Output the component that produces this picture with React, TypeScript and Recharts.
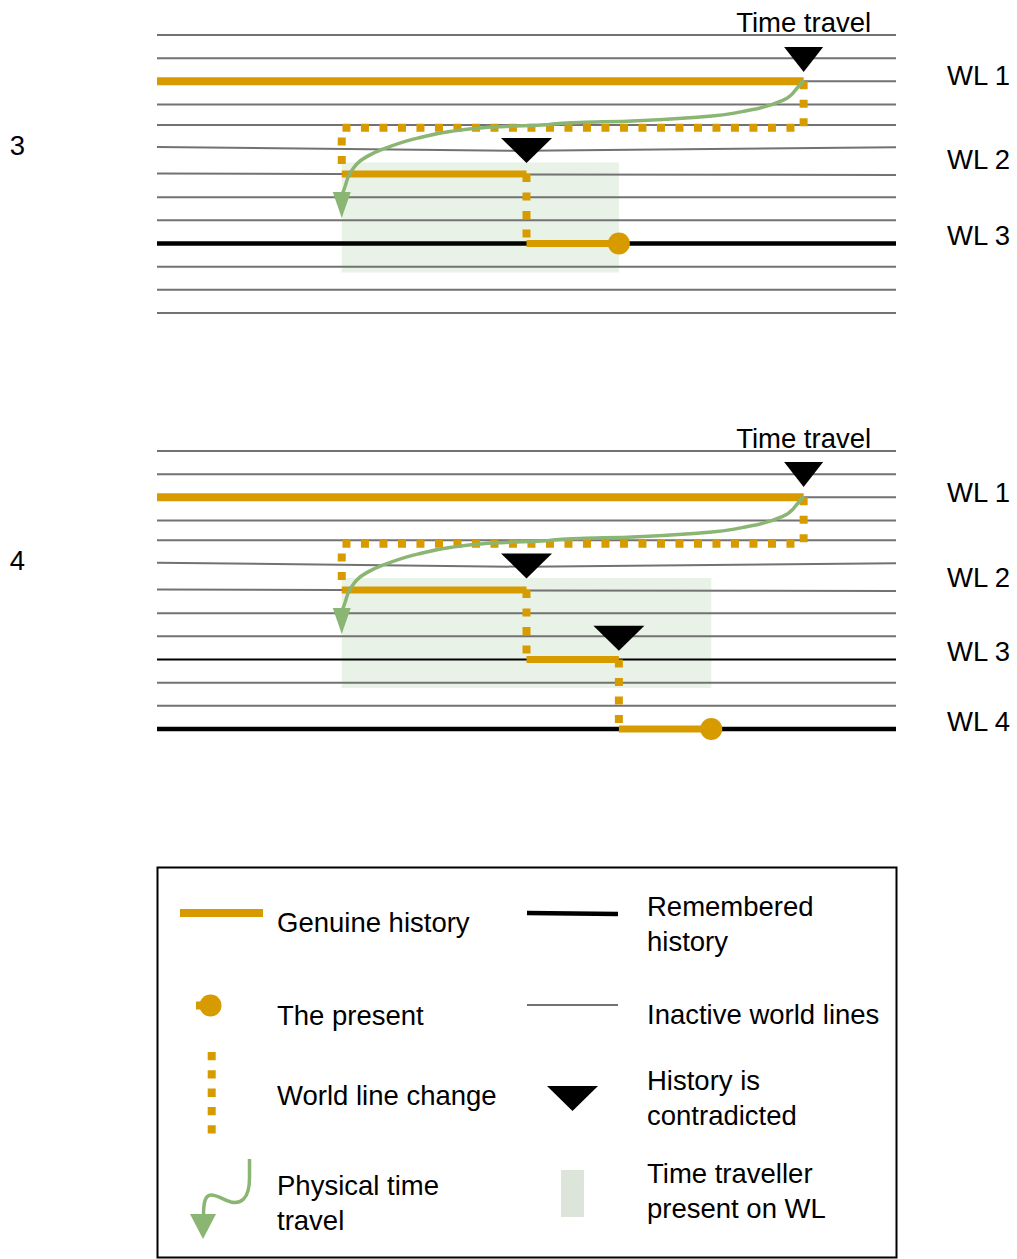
import React from "react";
import { ComposedChart, Line, Scatter, XAxis, YAxis, ReferenceArea } from "recharts";

const ORANGE = "#d79b00";
const GREEN = "#8bb573";
const GRAY = "#727272";
const PRESENCE = "#e9f2e6";
const FONT = '"Liberation Sans", Arial, Helvetica, sans-serif';
const FONT_SIZE = 27.5;

// time runs 0..8 left to right, world-line rows run 0 (top) .. 12 (bottom)
const TIME_DOMAIN = [0, 8];
const ROW_DOMAIN = [0, 12];

type Pt = { x: number; y: number };

// the time traveller's jump (same shape in both panels)
const jumpPath: Pt[] = [
  { x: 7.0, y: 1.95 },
  { x: 6.93, y: 2.29 },
  { x: 6.78, y: 2.81 },
  { x: 6.42, y: 3.24 },
  { x: 5.88, y: 3.54 },
  { x: 5.15, y: 3.71 },
  { x: 4.44, y: 3.8 },
  { x: 4.25, y: 3.86 },
  { x: 3.53, y: 4.0 },
  { x: 3.17, y: 4.17 },
  { x: 2.82, y: 4.45 },
  { x: 2.45, y: 4.92 },
  { x: 2.27, y: 5.25 },
  { x: 2.09, y: 5.96 },
  { x: 2.035, y: 6.55 },
  { x: 2.01, y: 6.83 },
];
const jumpArrowTip: Pt[] = [{ x: 2.0, y: 7.9 }];

// ---- panel 3 ----
const p3Inactive = [0, 1, 2, 3, 3.88, 7, 8, 10, 11, 12];
const p3Bent: Pt[][] = [
  [{ x: 0, y: 4.83 }, { x: 4, y: 5.0 }, { x: 8, y: 4.85 }],
  [{ x: 0, y: 5.98 }, { x: 4, y: 6.02 }, { x: 8, y: 6.04 }],
];
const p3RememberedThin: number[] = [];
const p3RememberedThick = [9];
const p3Genuine: Pt[][] = [
  [{ x: 0, y: 2 }, { x: 7, y: 2 }],
  [{ x: 2, y: 6 }, { x: 4, y: 6 }],
  [{ x: 4, y: 9 }, { x: 5, y: 9 }],
];
const p3Changes: Pt[][] = [
  [{ x: 7, y: 2 }, { x: 7, y: 4 }, { x: 2, y: 4 }, { x: 2, y: 6 }],
  [{ x: 4, y: 6 }, { x: 4, y: 9 }],
];
const p3Present: Pt[] = [{ x: 5, y: 9 }];
const p3TravelMark: Pt[] = [{ x: 7, y: 1.6 }];
const p3Contradictions: Pt[] = [{ x: 4, y: 5.52 }];
const p3Presence = { x1: 2, x2: 5, y1: 5.5, y2: 10.25 };
const p3WlRows = [1.73, 5.36, 8.63];
const p3WlLabels = ["WL 1", "WL 2", "WL 3"];

// ---- panel 4 ----
const p4Inactive = [0, 1, 2, 3, 3.85, 7, 8, 10, 11];
const p4Bent: Pt[][] = [
  [{ x: 0, y: 4.82 }, { x: 4, y: 5.0 }, { x: 8, y: 4.84 }],
  [{ x: 0, y: 5.98 }, { x: 4, y: 6.02 }, { x: 8, y: 6.04 }],
];
const p4RememberedThin = [9];
const p4RememberedThick = [12];
const p4Genuine: Pt[][] = [
  [{ x: 0, y: 2 }, { x: 7, y: 2 }],
  [{ x: 2, y: 6 }, { x: 4, y: 6 }],
  [{ x: 4, y: 9 }, { x: 5, y: 9 }],
  [{ x: 5, y: 12 }, { x: 6, y: 12 }],
];
const p4Changes: Pt[][] = [
  [{ x: 7, y: 2 }, { x: 7, y: 4 }, { x: 2, y: 4 }, { x: 2, y: 6 }],
  [{ x: 4, y: 6 }, { x: 4, y: 9 }],
  [{ x: 5, y: 9 }, { x: 5, y: 12 }],
];
const p4Present: Pt[] = [{ x: 6, y: 12 }];
const p4TravelMark: Pt[] = [{ x: 7, y: 1.55 }];
const p4Contradictions: Pt[] = [{ x: 4, y: 5.5 }, { x: 5, y: 8.62 }];
const p4Presence = { x1: 2, x2: 6, y1: 5.48, y2: 10.23 };
const p4WlRows = [1.76, 5.46, 8.66, 11.68];
const p4WlLabels = ["WL 1", "WL 2", "WL 3", "WL 4"];

const timeTravelTicks = [7];
const timeTravelLabel = "Time travel";

const legendLabels = {
  genuine: ["Genuine history"],
  present: ["The present"],
  change: ["World line change"],
  jump: ["Physical time", "travel"],
  remembered: ["Remembered", "history"],
  inactive: ["Inactive world lines"],
  contradicted: ["History is", "contradicted"],
  presence: ["Time traveller", "present on WL"],
};

const triangle = (w: number, h: number, fill: string) => (props: any) => {
  const { cx, cy } = props;
  return (
    <polygon
      points={`${cx - w / 2},${cy - h} ${cx + w / 2},${cy - h} ${cx},${cy}`}
      fill={fill}
    />
  );
};

const presentDot = (props: any) => <circle cx={props.cx} cy={props.cy} r={11} fill={ORANGE} />;

const flat = (row: number): Pt[] => [
  { x: TIME_DOMAIN[0], y: row },
  { x: TIME_DOMAIN[1], y: row },
];

function line(key: string, data: Pt[], stroke: string, width: number, extra: any = {}) {
  return (
    <Line
      key={key}
      data={data}
      dataKey="y"
      type="linear"
      stroke={stroke}
      strokeWidth={width}
      dot={false}
      activeDot={false}
      isAnimationActive={false}
      {...extra}
    />
  );
}

function WorldLinePanel(p: any) {
  const tickStyle = { fontSize: FONT_SIZE, fill: "#000", fontFamily: FONT };
  return (
    <ComposedChart width={1017} height={416} margin={{ top: 0, right: 0, bottom: 103, left: 0 }}>
      <XAxis
        type="number"
        dataKey="x"
        domain={TIME_DOMAIN}
        orientation="top"
        height={35}
        ticks={timeTravelTicks}
        interval={0}
        tickFormatter={() => timeTravelLabel}
        axisLine={false}
        tickLine={false}
        tickSize={0}
        tickMargin={3}
        tick={tickStyle}
      />
      <YAxis
        type="number"
        dataKey="y"
        domain={ROW_DOMAIN}
        reversed
        width={157}
        ticks={[p.labelRow]}
        interval={0}
        tickFormatter={() => p.label}
        axisLine={false}
        tickLine={false}
        tickSize={0}
        tickMargin={132}
        tick={tickStyle}
      />
      <YAxis
        yAxisId="wl"
        orientation="right"
        type="number"
        domain={ROW_DOMAIN}
        allowDataOverflow
        reversed
        width={121}
        ticks={p.wlRows}
        interval={0}
        tickFormatter={(_v: number, i: number) => p.wlLabels[i]}
        axisLine={false}
        tickLine={false}
        tickSize={0}
        tickMargin={51}
        tick={tickStyle}
      />
      <ReferenceArea
        x1={p.presence.x1}
        x2={p.presence.x2}
        y1={p.presence.y1}
        y2={p.presence.y2}
        fill={PRESENCE}
        fillOpacity={1}
        stroke="none"
        ifOverflow="visible"
      />
      {p.inactive.map((r: number) => line(`in-${r}`, flat(r), GRAY, 2))}
      {p.bent.map((d: Pt[], i: number) => line(`bent-${i}`, d, GRAY, 2))}
      {p.rememberedThin.map((r: number) => line(`rt-${r}`, flat(r), "#000", 2))}
      {p.rememberedThick.map((r: number) => line(`rk-${r}`, flat(r), "#000", 4.5))}
      {p.genuine.map((d: Pt[], i: number) => line(`gen-${i}`, d, ORANGE, i === 0 ? 8 : 7))}
      {p.changes.map((d: Pt[], i: number) =>
        line(`chg-${i}`, d, ORANGE, 8, { strokeDasharray: "8 10.5", strokeLinejoin: "miter" })
      )}
      {line("jump", jumpPath, GREEN, 3.5, { type: "monotoneY" })}
      <Scatter data={jumpArrowTip} dataKey="y" shape={triangle(18, 26, GREEN)} isAnimationActive={false} />
      <Scatter data={p.present} dataKey="y" shape={presentDot} isAnimationActive={false} />
      <Scatter data={p.travelMark} dataKey="y" shape={triangle(39, 25, "#000")} isAnimationActive={false} />
      <Scatter data={p.contradictions} dataKey="y" shape={triangle(51, 25, "#000")} isAnimationActive={false} />
    </ComposedChart>
  );
}

function LegendText({ x, y, lines }: { x: number; y: number; lines: string[] }) {
  return (
    <text x={x} y={y} fontSize={FONT_SIZE} fill="#000" fontFamily={FONT}>
      {lines.map((t, i) => (
        <tspan key={t} x={x} dy={i === 0 ? 0 : 34.5}>
          {t}
        </tspan>
      ))}
    </text>
  );
}

function LegendBox() {
  return (
    <svg
      width={742}
      height={394}
      style={{ position: "absolute", left: 156, top: 866 }}
    >
      <rect x={1.5} y={1.5} width={739} height={390} fill="#fff" stroke="#000" strokeWidth={2} />
      {/* left column */}
      <line x1={24} y1={47} x2={107} y2={47} stroke={ORANGE} strokeWidth={8} />
      <LegendText x={121} y={66} lines={legendLabels.genuine} />
      <line x1={40} y1={139.5} x2={54.5} y2={139.5} stroke={ORANGE} strokeWidth={8} />
      <circle cx={54.5} cy={139.5} r={11} fill={ORANGE} />
      <LegendText x={121} y={159} lines={legendLabels.present} />
      <line x1={55.7} y1={186} x2={55.7} y2={269} stroke={ORANGE} strokeWidth={8} strokeDasharray="8.3 10" />
      <LegendText x={121} y={239} lines={legendLabels.change} />
      <path
        d="M93.5 293 L93.5 312 C93.5 334 84 338 75 336 C67 334 62 329 55 329 C49 329 47.5 337 47.5 349"
        fill="none"
        stroke={GREEN}
        strokeWidth={3.5}
      />
      <polygon points="34,348 60,348 47,373" fill={GREEN} />
      <LegendText x={121} y={329} lines={legendLabels.jump} />
      {/* right column */}
      <line x1={371} y1={47} x2={462} y2={48} stroke="#000" strokeWidth={4.5} />
      <LegendText x={491} y={50} lines={legendLabels.remembered} />
      <line x1={371} y1={139} x2={462} y2={139} stroke={GRAY} strokeWidth={2} />
      <LegendText x={491} y={158} lines={legendLabels.inactive} />
      <polygon points="391,220 442,220 416.5,245" fill="#000" />
      <LegendText x={491} y={224} lines={legendLabels.contradicted} />
      <rect x={405} y={304} width={23} height={47} fill="#dde5da" />
      <LegendText x={491} y={317} lines={legendLabels.presence} />
    </svg>
  );
}

export default function App() {
  return (
    <div
      style={{
        position: "absolute",
        left: 0,
        top: 0,
        width: 1017,
        height: 1259,
        background: "#fff",
        fontFamily: FONT,
        overflow: "hidden",
      }}
    >
      <div style={{ position: "absolute", left: 0, top: 0 }}>
        <WorldLinePanel
          label="3"
          labelRow={4.75}
          inactive={p3Inactive}
          bent={p3Bent}
          rememberedThin={p3RememberedThin}
          rememberedThick={p3RememberedThick}
          genuine={p3Genuine}
          changes={p3Changes}
          present={p3Present}
          travelMark={p3TravelMark}
          contradictions={p3Contradictions}
          presence={p3Presence}
          wlRows={p3WlRows}
          wlLabels={p3WlLabels}
        />
      </div>
      <div style={{ position: "absolute", left: 0, top: 416 }}>
        <WorldLinePanel
          label="4"
          labelRow={4.72}
          inactive={p4Inactive}
          bent={p4Bent}
          rememberedThin={p4RememberedThin}
          rememberedThick={p4RememberedThick}
          genuine={p4Genuine}
          changes={p4Changes}
          present={p4Present}
          travelMark={p4TravelMark}
          contradictions={p4Contradictions}
          presence={p4Presence}
          wlRows={p4WlRows}
          wlLabels={p4WlLabels}
        />
      </div>
      <LegendBox />
    </div>
  );
}
